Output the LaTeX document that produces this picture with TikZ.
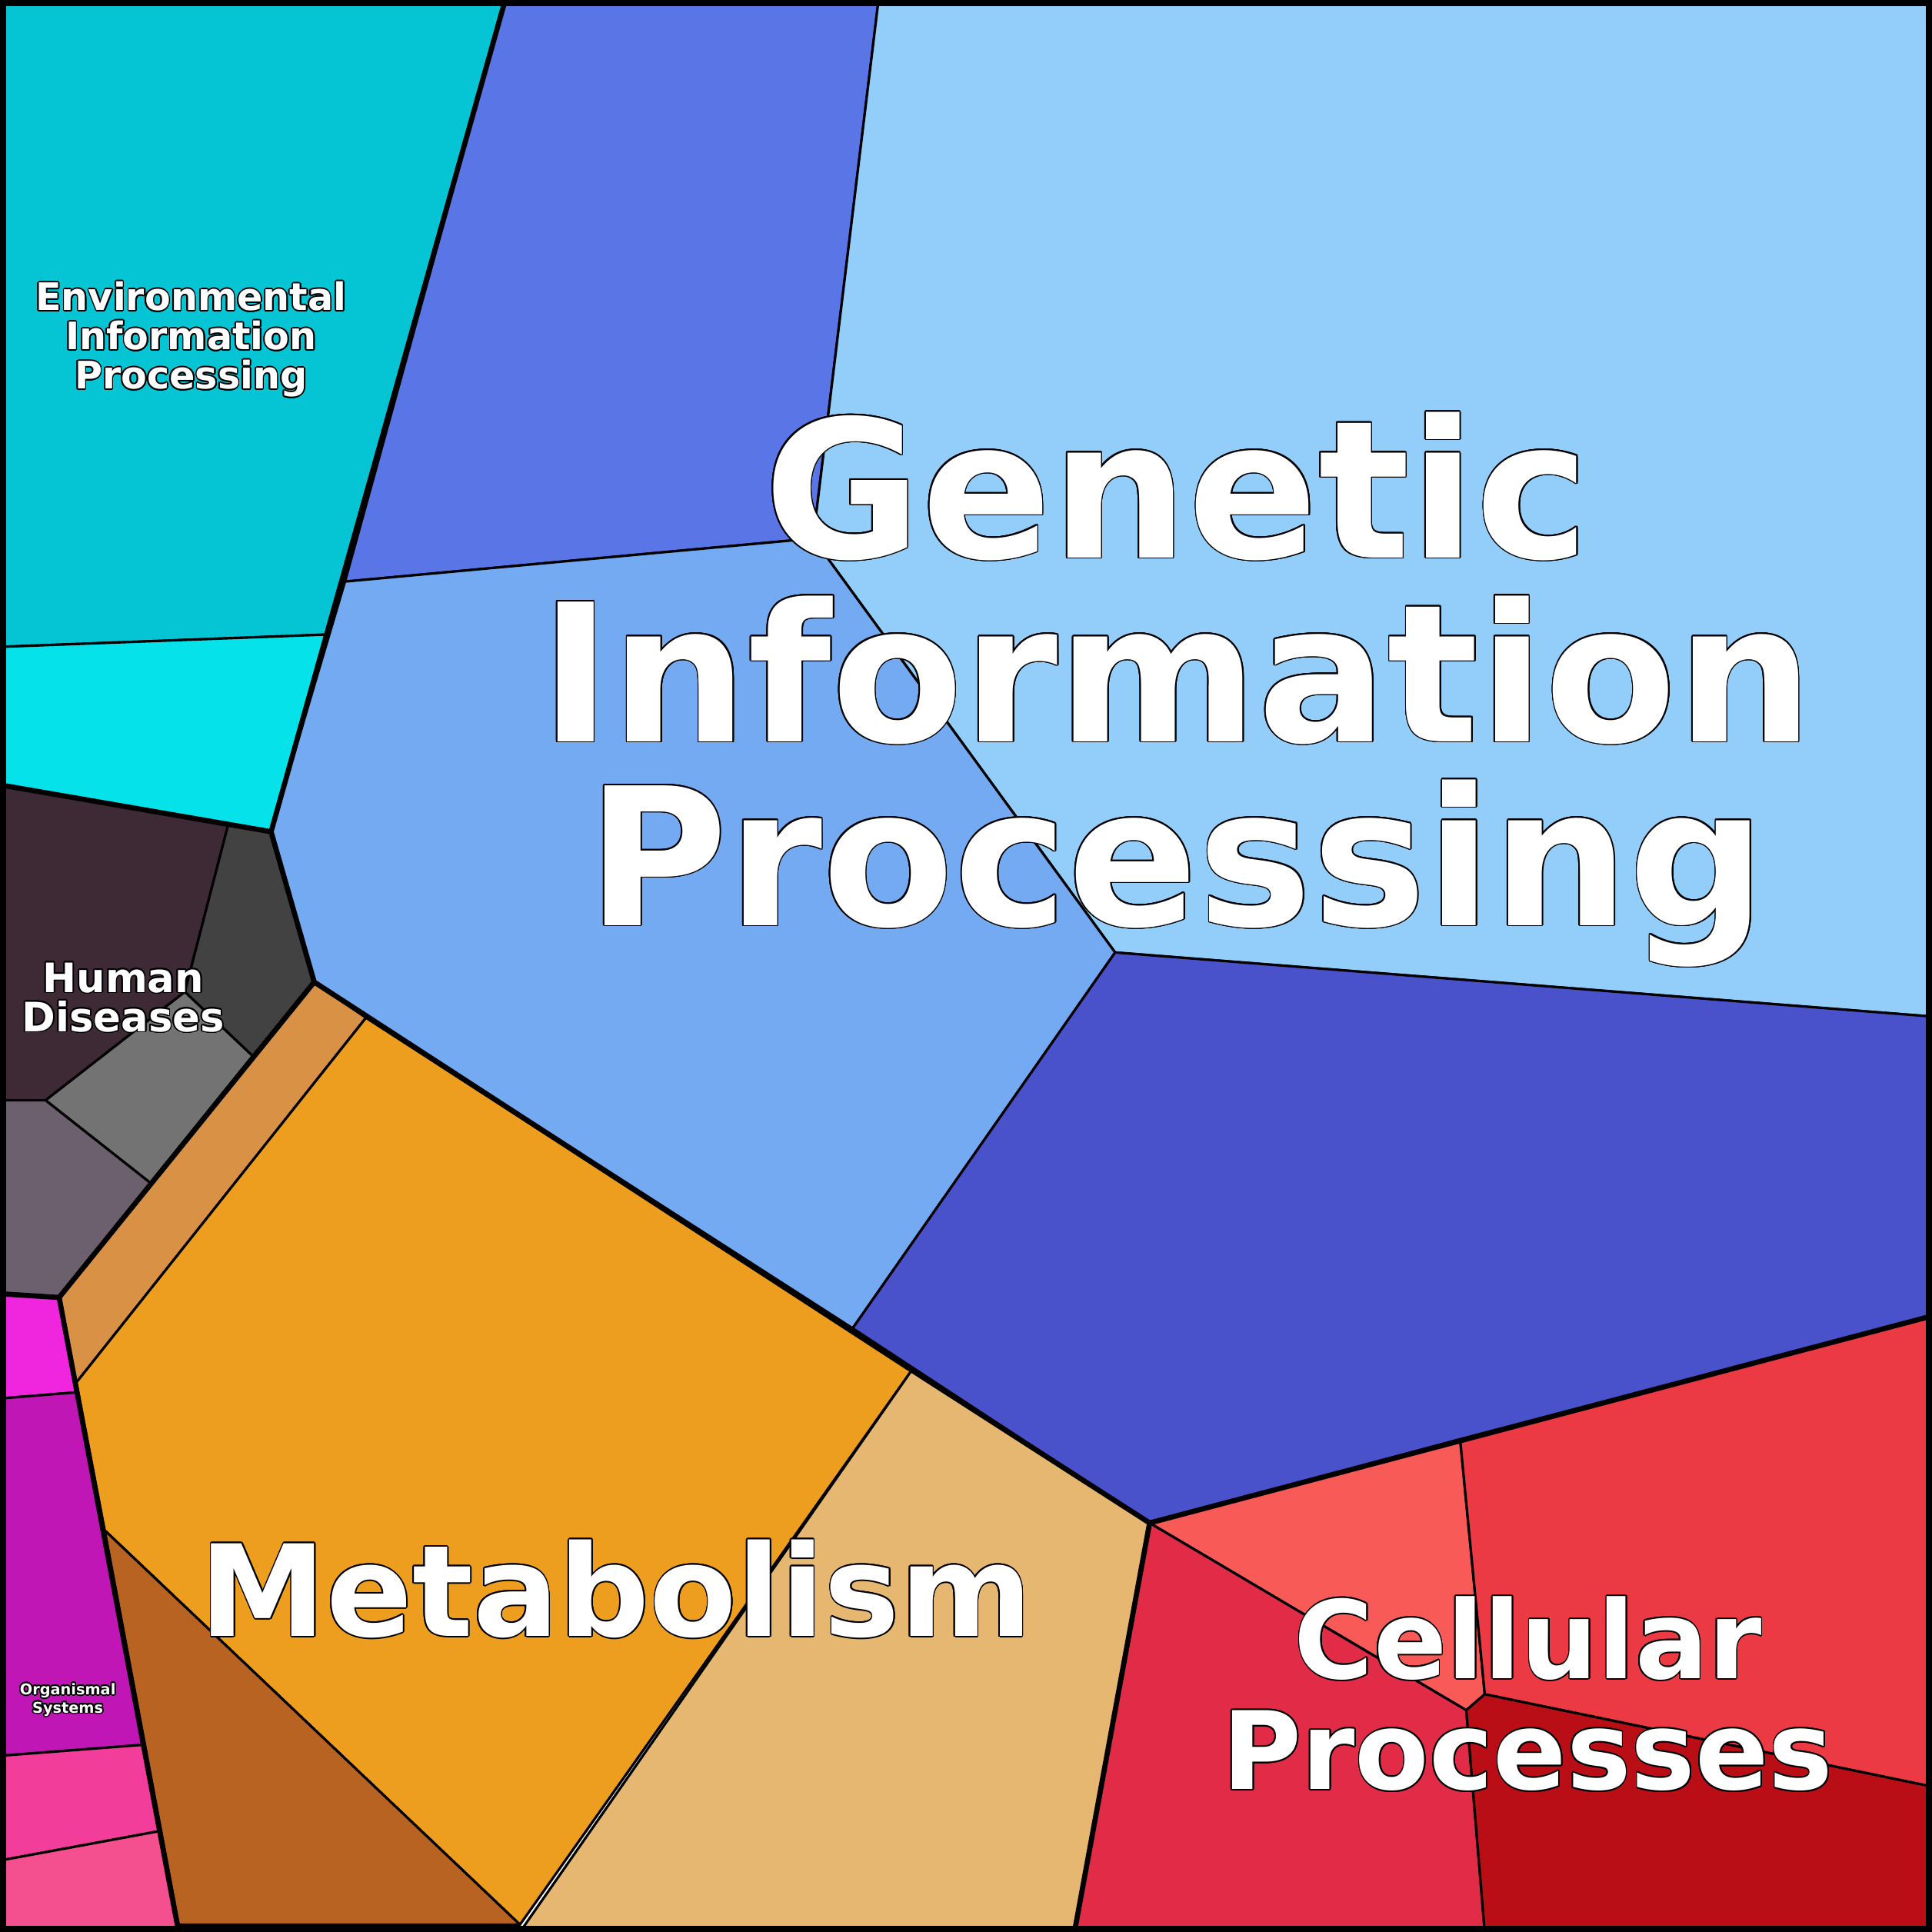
\documentclass[tikz,border=0pt]{standalone}
\usepackage{fontspec}
\setmainfont{DejaVu Sans}
\usepackage{contour}
\contourlength{0.5pt}
\contournumber{16}
\begin{document}
\begin{tikzpicture}[x=0.01602cm,y=-0.01602cm,line join=round,
 cell/.style={draw=black,line width=0.9pt},
 thick/.style={draw=black,line width=1.9pt},
 lab/.style={align=center,text=white,font=\bfseries,inner sep=0pt}]
\useasboundingbox (0,0) rectangle (1568,1568);
\definecolor{c1}{HTML}{05C5D5}\definecolor{c2}{HTML}{05E2EA}
\definecolor{c3}{HTML}{5A75E6}\definecolor{c4}{HTML}{73AAF2}
\definecolor{c5}{HTML}{93CEFB}\definecolor{c6}{HTML}{4A52CB}
\definecolor{h1}{HTML}{3D2A35}\definecolor{h2}{HTML}{424242}
\definecolor{h3}{HTML}{737373}\definecolor{h4}{HTML}{6C5F6E}
\definecolor{m1}{HTML}{D99245}\definecolor{m2}{HTML}{EE9E1F}
\definecolor{m3}{HTML}{B86322}\definecolor{m4}{HTML}{E6B770}
\definecolor{o1}{HTML}{F026DF}\definecolor{o2}{HTML}{BF16B5}
\definecolor{o3}{HTML}{F23D9B}\definecolor{o4}{HTML}{F44F8F}
\definecolor{p1}{HTML}{F75A57}\definecolor{p2}{HTML}{EB3A43}
\definecolor{p3}{HTML}{E22B47}\definecolor{p4}{HTML}{B90E16}
% environmental
\filldraw[cell,fill=c1] (0,0)--(410,0)--(265,515)--(0,525)--cycle;
\filldraw[cell,fill=c2] (0,525)--(265,515)--(220,675)--(0,637)--cycle;
% genetic
\filldraw[cell,fill=c3] (410,0)--(713,0)--(660,437)--(280,472)--cycle;
\filldraw[cell,fill=c5] (713,0)--(1568,0)--(1568,825)--(905,773)--(660,437)--cycle;
\filldraw[cell,fill=c4] (280,472)--(660,437)--(905,773)--(692,1078)--(255,797)--(220,675)--cycle;
\filldraw[cell,fill=c6] (905,773)--(1568,825)--(1568,1068)--(933,1236)--(692,1078)--cycle;
% human
\filldraw[cell,fill=h1] (0,637)--(185,670)--(150,805)--(37,893)--(0,893)--cycle;
\filldraw[cell,fill=h2] (185,670)--(220,675)--(255,797)--(205,857)--(150,805)--cycle;
\filldraw[cell,fill=h3] (37,893)--(150,805)--(205,857)--(122,960)--cycle;
\filldraw[cell,fill=h4] (0,893)--(37,893)--(122,960)--(48,1053)--(0,1050)--cycle;
% metabolism
\filldraw[cell,fill=m1] (255,797)--(297,826)--(62,1122)--(48,1053)--cycle;
\filldraw[cell,fill=m2] (297,826)--(740,1112)--(422,1562)--(85,1242)--(62,1122)--cycle;
\filldraw[cell,fill=m3] (85,1242)--(422,1562)--(145,1562)--cycle;
\filldraw[cell,fill=m4] (740,1112)--(933,1236)--(872,1568)--(422,1568)--cycle;
% organismal
\filldraw[cell,fill=o1] (0,1050)--(48,1053)--(62,1130)--(0,1135)--cycle;
\filldraw[cell,fill=o2] (0,1135)--(62,1130)--(117,1416)--(0,1425)--cycle;
\filldraw[cell,fill=o3] (0,1425)--(117,1416)--(130,1486)--(0,1510)--cycle;
\filldraw[cell,fill=o4] (0,1510)--(130,1486)--(145,1568)--(0,1568)--cycle;
% cellular
\filldraw[cell,fill=p1] (933,1236)--(1185,1168)--(1205,1375)--(1190,1388)--cycle;
\filldraw[cell,fill=p2] (1185,1168)--(1568,1068)--(1568,1450)--(1205,1375)--cycle;
\filldraw[cell,fill=p3] (933,1236)--(1190,1388)--(1205,1568)--(872,1568)--cycle;
\filldraw[cell,fill=p4] (1190,1388)--(1205,1375)--(1568,1450)--(1568,1568)--(1205,1568)--cycle;
% category boundaries
\draw[thick] (0,637)--(220,675)--(255,797)--(740,1112)--(933,1236)--(1568,1068);
\draw[thick] (410,0)--(220,675);
\draw[thick] (933,1236)--(872,1568);
\draw[thick] (255,797)--(48,1053)--(0,1050);
\draw[thick] (48,1053)--(145,1568);
\draw[black,line width=2.8pt] (2,2) rectangle (1566,1566);
% labels
\node[lab,font=\bfseries\fontsize{71}{68}\selectfont] (gip) at (955,560) {\contour{black}{Genetic}\\\contour{black}{Information}\\\contour{black}{Processing}};
\node[lab,font=\bfseries\fontsize{47}{47}\selectfont] (met) at (500,1290) {\contour{black}{Metabolism}};
\node[lab,font=\bfseries\fontsize{40}{41}\selectfont] (cp) at (1240,1375) {\contour{black}{Cellular}\\\contour{black}{Processes}};
\node[lab,font=\bfseries\fontsize{14}{14.5}\selectfont] (eip) at (155,276) {\contour{black}{Environmental}\\\contour{black}{Information}\\\contour{black}{Processing}};
\node[lab,font=\bfseries\fontsize{15}{14.5}\selectfont] (hd) at (100,810) {\contour{black}{Human}\\\contour{black}{Diseases}};
\node[lab,font=\bfseries\fontsize{5.5}{5.5}\selectfont] (os) at (55,1380) {\contour{black}{Organismal}\\\contour{black}{Systems}};
\end{tikzpicture}
\end{document}
